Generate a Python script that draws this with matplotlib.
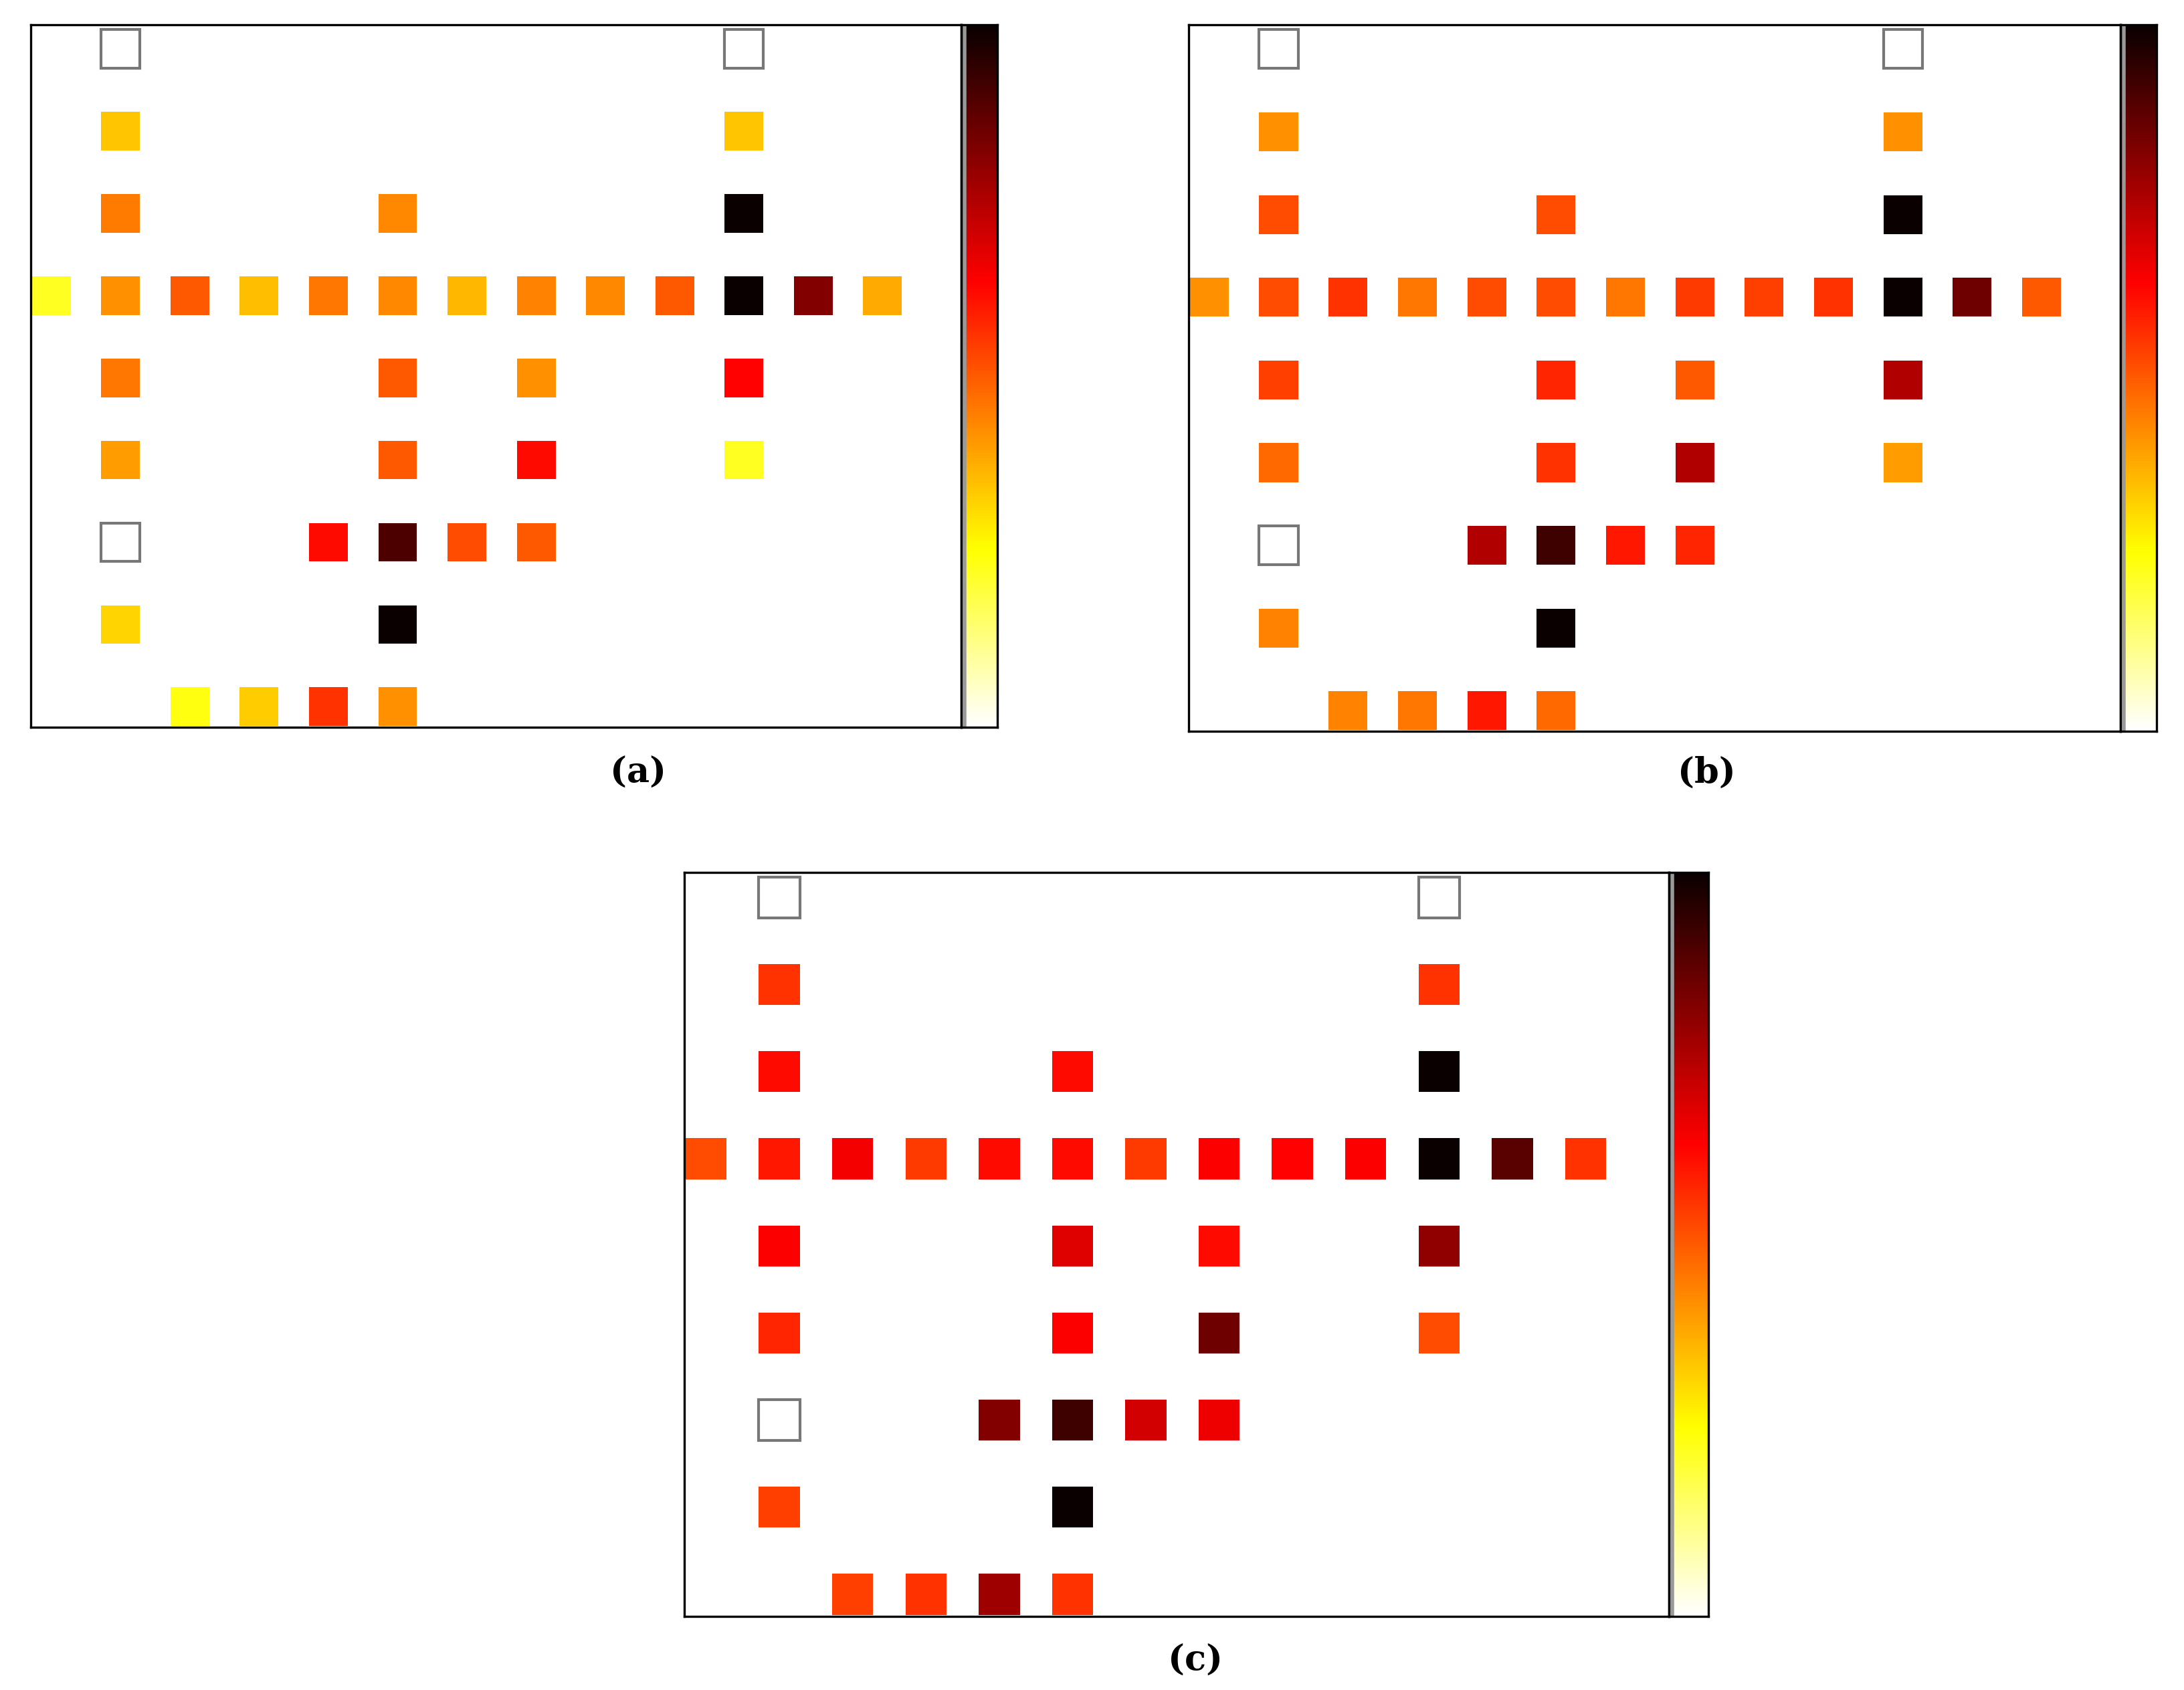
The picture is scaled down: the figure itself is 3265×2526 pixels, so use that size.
import matplotlib
matplotlib.use("Agg")
import matplotlib.pyplot as plt
from matplotlib.patches import Rectangle
import numpy as np

rows = [0,0, 1,1, 2,2,2, 3,3,3,3,3,3,3,3,3,3,3,3,3, 4,4,4,4, 5,5,5,5, 6,6,6,6,6, 7,7, 8,8,8,8]
cols = [1,10, 1,10, 1,5,10, 0,1,2,3,4,5,6,7,8,9,10,11,12, 1,5,7,10, 1,5,7,10, 1,4,5,6,7, 1,5, 2,3,4,5]
# NaN = empty cell (white with grey border)
vals_a = [np.nan,np.nan, 0.34,0.34, 0.45,0.43,1.0,
          0.22,0.42,0.50,0.35,0.46,0.43,0.36,0.44,0.43,0.50,1.0,0.82,0.38,
          0.46,0.50,0.42,0.63, 0.40,0.50,0.62,0.22,
          np.nan,0.62,0.90,0.52,0.50, 0.32,1.0, 0.24,0.33,0.56,0.42]
vals_b = [np.nan,np.nan, 0.42,0.42, 0.52,0.52,1.0,
          0.42,0.52,0.56,0.46,0.52,0.52,0.46,0.55,0.54,0.56,1.0,0.85,0.50,
          0.54,0.58,0.50,0.75, 0.48,0.56,0.75,0.40,
          np.nan,0.75,0.92,0.60,0.58, 0.44,1.0, 0.44,0.46,0.60,0.48]
vals_c = [np.nan,np.nan, 0.56,0.56, 0.62,0.62,1.0,
          0.52,0.60,0.65,0.55,0.62,0.62,0.55,0.64,0.63,0.64,1.0,0.88,0.56,
          0.64,0.68,0.62,0.80, 0.58,0.64,0.85,0.52,
          np.nan,0.82,0.92,0.70,0.66, 0.54,1.0, 0.54,0.56,0.78,0.56]
labels = ["(a)", "(b)", "(c)"]

W, H = 3266, 2526
fig = plt.figure(figsize=(W/200, H/200), dpi=200)
cmap = plt.get_cmap("hot_r")

def fx(px): return px/1568
def fy(py): return 1 - py/1213

panels = [  # axes x0,x1,y0,y1 (display px), cbar x1, label x,y
    (22, 690, 18, 522, 716, 458, 555),
    (853, 1522, 18, 525, 1548, 1225, 555),
    (491, 1198, 626, 1160, 1226, 858, 1192),
]
sw, sh = 0.56, 0.47
for vals, lab, (x0, x1, y0, y1, cx1, lx, ly) in zip([vals_a, vals_b, vals_c], labels, panels):
    ax = fig.add_axes([fx(x0), fy(y1), fx(x1-x0), fy(y0)-fy(y1)])
    ax.set_xlim(-0.3, 13.14)
    ax.set_ylim(8.25, -0.29)
    ax.set_xticks([]); ax.set_yticks([])
    for r, c, v in zip(rows, cols, vals):
        if np.isnan(v):
            ax.add_patch(Rectangle((c-sw/2, r-sh/2), sw, sh, facecolor="white",
                                   edgecolor="#777777", lw=1.5))
        else:
            ax.add_patch(Rectangle((c-sw/2, r-sh/2), sw, sh, facecolor=cmap(v),
                                   edgecolor="none"))
    for s in ax.spines.values():
        s.set_linewidth(1.2)
    cax = fig.add_axes([fx(x1), fy(y1), fx(cx1-x1), fy(y0)-fy(y1)])
    grad = np.linspace(0, 1, 256).reshape(-1, 1)
    cax.imshow(grad, cmap=cmap, aspect="auto", origin="lower", extent=[0, 1, 0, 1])
    cax.axvline(0.08, color="#999999", lw=2)
    cax.set_xticks([]); cax.set_yticks([])
    for s in cax.spines.values():
        s.set_linewidth(1.2)
    fig.text(fx(lx), fy(ly), lab, ha="center", va="center", fontsize=19,
             fontweight="bold", family="DejaVu Serif")

fig.savefig("out.png", dpi=200)
